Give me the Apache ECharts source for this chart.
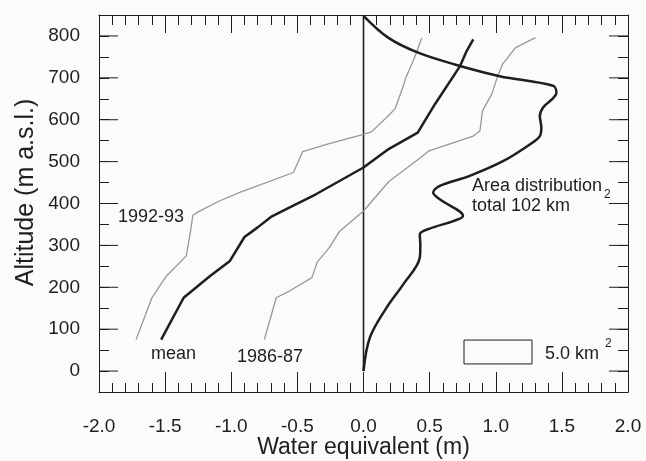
<!DOCTYPE html>
<html><head><meta charset="utf-8">
<script src="https://cdn.jsdelivr.net/npm/echarts@6/dist/echarts.min.js"></script>
<style>html,body{margin:0;padding:0;background:#fbfbf9}#c{width:646px;height:461px}</style>
</head><body><div id="c"></div>
<script>
// ---- data (x: water equivalent in m, y: altitude in m a.s.l.) ----
const yTickLabels = [0, 100, 200, 300, 400, 500, 600, 700, 800];
const xTickLabels = ['-2.0', '-1.5', '-1.0', '-0.5', '0.0', '0.5', '1.0', '1.5', '2.0'];

const mean = [[-1.53,75],[-1.36,175],[-1.16,227],[-1.01,263],[-0.90,320],[-0.80,343],[-0.70,368],
  [-0.55,392],[-0.36,422],[0,486],[0.19,530],[0.41,569],[0.54,637],[0.73,728],[0.78,764],[0.83,792]];

const y1992_93 = [[-1.72,75],[-1.60,175],[-1.49,227],[-1.34,275],[-1.31,330],[-1.29,372],[-1.25,380],
  [-1.09,406],[-0.94,426],[-0.53,474],[-0.46,524],[-0.26,543],[0,565],[0.06,571],[0.20,613],
  [0.24,627],[0.30,680],[0.32,700],[0.38,744],[0.40,760],[0.44,795]];

const y1986_87 = [[-0.75,75],[-0.66,175],[-0.56,191],[-0.39,223],[-0.35,260],[-0.26,294],[-0.18,334],
  [0,382],[0.19,452],[0.43,509],[0.49,525],[0.83,561],[0.88,573],[0.90,621],[0.97,661],
  [1.01,700],[1.05,732],[1.15,772],[1.30,796]];

// area distribution (km^2) by altitude
const areaAlt = [0, 80, 151, 207, 271, 300, 326, 340, 358, 370, 410, 426, 442, 466, 501, 541, 561,
  581, 609, 629, 665, 681, 704, 732, 760, 796, 848];
const areaKm2 = [0, 0.47, 1.69, 2.92, 4.14, 4.18, 4.14, 4.86, 6.61, 7.32, 5.61, 5.12, 5.61, 7.81, 10.26,
  12.23, 12.97, 13.08, 12.97, 13.21, 14.19, 13.94, 10.02, 6.71, 4.02, 1.81, 0];
const areaScale = 0.1028;      // x-axis units per km^2
const scaleBarKm2 = 5.0;
const zeroLine = [[0, 0], [0, 850]];

// ---- layout/styles ----
const FONT = '"Liberation Sans", Arial, Helvetica, sans-serif';
const INK = '#1e1e1e';
const GRAY = '#979797';
const BOX = {x0: 0.76, yTop: 74, yBottom: 17};

const chart = echarts.init(document.getElementById('c'), null, {renderer: 'canvas'});

function xAxisCfg(pos, major, minor, labels) {
  return {
    type: 'value', position: pos, min: -2, max: 2, interval: 0.5,
    axisLine: {show: true, onZero: false, lineStyle: {color: INK, width: 1}},
    axisTick: {show: true, inside: true, length: major, lineStyle: {color: INK, width: 1}},
    minorTick: {show: true, splitNumber: 5, length: minor, lineStyle: {color: INK, width: 1}},
    splitLine: {show: false}, minorSplitLine: {show: false},
    axisLabel: labels ? {show: true, showMinLabel: true, showMaxLabel: true, margin: 25,
      fontSize: 19, fontFamily: FONT, color: INK,
      formatter: v => xTickLabels[Math.round((v + 2) / 0.5)] || ''} : {show: false}
  };
}
function yAxisCfg(pos, labels) {
  return {
    type: 'value', position: pos, min: -50, max: 850, interval: 50,
    axisLine: {show: true, onZero: false, lineStyle: {color: INK, width: 1}},
    axisTick: {show: true, inside: true, length: 10, lineStyle: {color: INK, width: 1}},
    splitLine: {show: false},
    axisLabel: labels ? {show: true, margin: 19, fontSize: 19, fontFamily: FONT, color: INK,
      formatter: v => yTickLabels.indexOf(Math.round(v)) >= 0 ? String(Math.round(v)) : ''} : {show: false}
  };
}

const xa0 = xAxisCfg('bottom', 20, 9, true);
Object.assign(xa0, {name: 'Water equivalent (m)', nameLocation: 'middle', nameGap: 44, nameMoveOverlap: false,
  nameTextStyle: {fontSize: 23, fontFamily: FONT, color: INK}});
const ya0 = yAxisCfg('left', true);
Object.assign(ya0, {name: 'Altitude (m a.s.l.)', nameLocation: 'middle', nameGap: 60, nameMoveOverlap: false,
  nameTextStyle: {fontSize: 25, fontFamily: FONT, color: INK, padding: [0, 0, 0, 22]}});

const lineStyleSeries = (name, data, color, width, smooth) => ({
  name, type: 'line', data, showSymbol: false, symbol: 'none', smooth: smooth || false,
  lineStyle: {color, width}, clip: false, silent: true, z: 3
});

const option = {
  animation: false,
  backgroundColor: '#fbfbf9',
  grid: {left: 99, right: 18, top: 15, bottom: 69, containLabel: false, outerBoundsMode: 'none'},
  xAxis: [xa0, xAxisCfg('top', 18, 10, false)],
  yAxis: [ya0, yAxisCfg('right', false)],
  series: [
    lineStyleSeries('zero', zeroLine, INK, 1.6),
    lineStyleSeries('1992-93', y1992_93, GRAY, 1.3),
    lineStyleSeries('1986-87', y1986_87, GRAY, 1.3),
    lineStyleSeries('mean', mean, INK, 2.5),
    lineStyleSeries('area', areaAlt.map((a, i) => [areaKm2[i] * areaScale, a]), INK, 2.5, 0.35),
    {
      name: 'majorTicks', type: 'custom', data: yTickLabels.map(v => [v]), silent: true, clip: false,
      renderItem: (params, api) => {
        const v = api.value(0);
        const L = api.coord([-2, v]), R = api.coord([2, v]);
        const st = {stroke: INK, lineWidth: 1};
        return {type: 'group', children: [
          {type: 'line', shape: {x1: L[0], y1: L[1], x2: L[0] + 19, y2: L[1]}, style: st},
          {type: 'line', shape: {x1: R[0], y1: R[1], x2: R[0] - 19, y2: R[1]}, style: st}
        ]};
      }
    },
    {
      name: 'scaleBar', type: 'custom', data: [[scaleBarKm2]], silent: true, clip: false,
      renderItem: (params, api) => {
        const w = api.value(0) * areaScale;
        const p0 = api.coord([BOX.x0, BOX.yTop]), p1 = api.coord([BOX.x0 + w, BOX.yBottom]);
        return {type: 'rect', shape: {x: p0[0], y: p0[1], width: p1[0] - p0[0], height: p1[1] - p0[1]},
          style: {fill: 'none', stroke: INK, lineWidth: 1}};
      }
    }
  ],
  graphic: [
    {type: 'text', left: 118, top: 208, style: {text: '1992-93', font: '18px ' + FONT, fill: INK}},
    {type: 'text', left: 151, top: 345, style: {text: 'mean', font: '18px ' + FONT, fill: INK}},
    {type: 'text', left: 237, top: 348, style: {text: '1986-87', font: '18px ' + FONT, fill: INK}},
    {type: 'text', left: 472, top: 177, style: {text: 'Area distribution', font: '18px ' + FONT, fill: INK}},
    {type: 'text', left: 472, top: 197, style: {text: 'total 102 km', font: '18px ' + FONT, fill: INK}},
    {type: 'text', left: 604, top: 189, style: {text: '2', font: '12px ' + FONT, fill: INK}},
    {type: 'text', left: 545, top: 345, style: {text: '5.0 km', font: '18px ' + FONT, fill: INK}},
    {type: 'text', left: 605, top: 338, style: {text: '2', font: '12px ' + FONT, fill: INK}}
  ]
};
chart.setOption(option);
</script></body></html>
